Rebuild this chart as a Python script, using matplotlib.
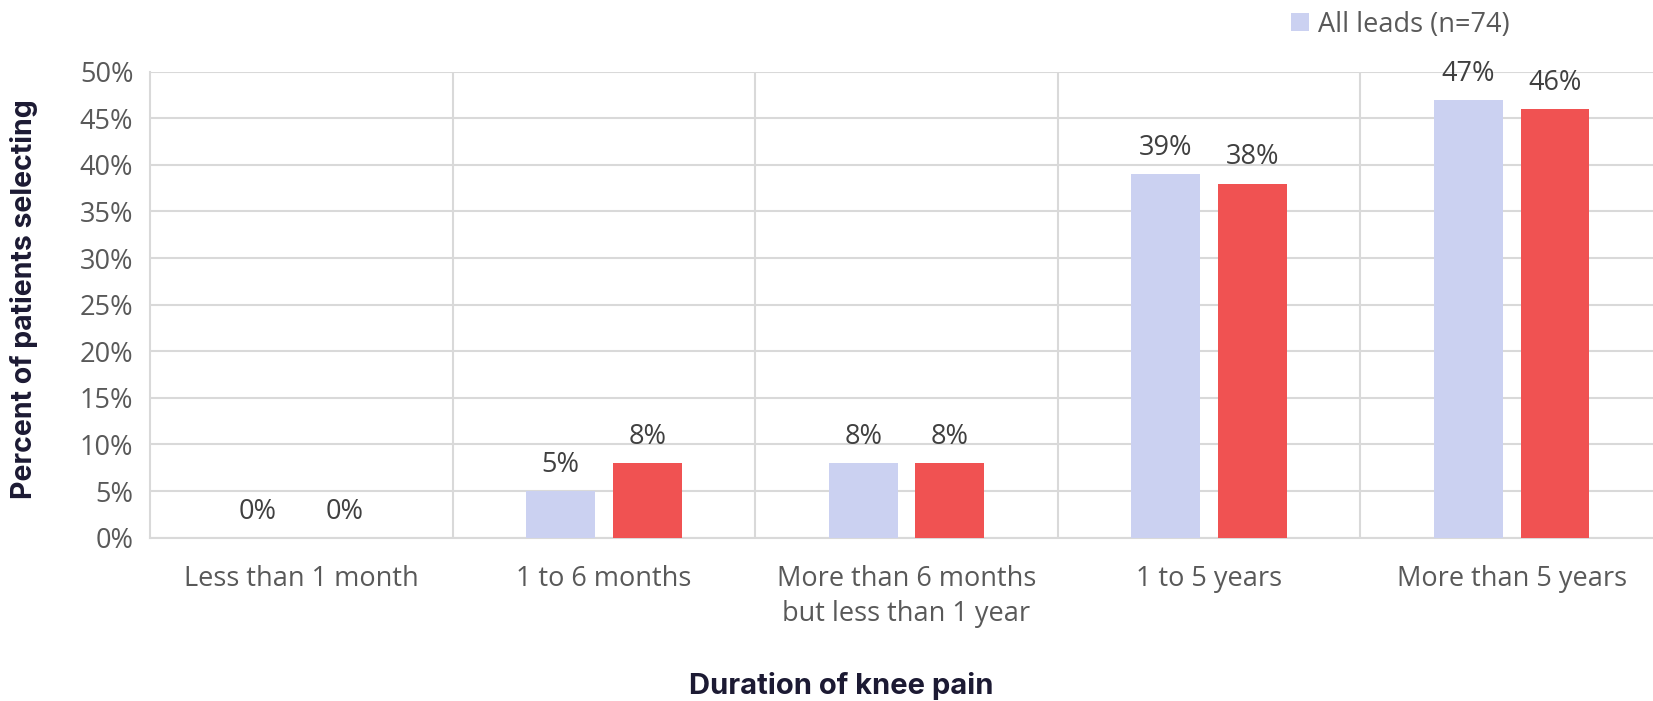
import matplotlib.pyplot as plt
import numpy as np

categories = ['Less than 1 month', '1 to 6 months',
              'More than 6 months\nbut less than 1 year', '1 to 5 years',
              'More than 5 years']
all_leads = [0, 5, 8, 39, 47]
second_series = [0, 8, 8, 38, 46]
legend_label = 'All leads (n=74)'

blue = '#CBD1F1'
red = '#F05252'
grid_c = '#D9D9D9'
text_c = '#595959'
title_c = '#1C1A33'

plt.rcParams['font.family'] = ['Open Sans', 'DejaVu Sans']
fs = 19.5

fig = plt.figure(figsize=(16.53, 7.01), dpi=100)
ax = fig.add_axes([150 / 1653, 0.233, 1513 / 1653, 0.6647])

x = np.arange(len(categories))
w = 0.227
off = 0.143
b1 = ax.bar(x - off, all_leads, w, color=blue, label=legend_label, zorder=3)
b2 = ax.bar(x + off, second_series, w, color=red, zorder=3)

for bars, vals in ((b1, all_leads), (b2, second_series)):
    for r, v in zip(bars, vals):
        ax.text(r.get_x() + r.get_width() / 2, v + 1.3, f'{v}%',
                ha='center', va='bottom', fontsize=fs, color='#404040')

ax.set_xlim(-0.5, len(categories) - 0.5)
ax.set_ylim(0, 50)
ax.set_yticks(np.arange(0, 51, 5))
ax.set_yticklabels([f'{t}%' for t in range(0, 51, 5)], fontsize=fs, color=text_c)
ax.set_xticks(x)
ax.set_xticklabels(categories, fontsize=fs, color=text_c, linespacing=1.3)
ax.set_xticks(np.arange(0.5, len(categories) - 0.5, 1), minor=True)
ax.tick_params(axis='both', length=0, which='both')
ax.tick_params(axis='x', pad=20)
ax.tick_params(axis='y', pad=12)
ax.yaxis.grid(True, color=grid_c, linewidth=1.5, zorder=0)
ax.xaxis.grid(True, which='minor', color=grid_c, linewidth=1.5, zorder=0)
for s in ['top', 'right']:
    ax.spines[s].set_visible(False)
for s in ['left', 'bottom']:
    ax.spines[s].set_color(grid_c)
    ax.spines[s].set_linewidth(1.5)

fig.text(24 / 1653, 0.574, 'Percent of patients selecting', rotation=90,
         ha='center', va='center', fontsize=20.5, fontweight='bold',
         color=title_c, family=['Inter', 'DejaVu Sans'])
fig.text(0.509, 0.021, 'Duration of knee pain', ha='center', va='center',
         fontsize=21, fontweight='bold', color=title_c, family=['Inter', 'DejaVu Sans'])

ax.legend(loc='upper left', bbox_to_anchor=(1275 / 1653, 1.008), bbox_transform=fig.transFigure,
          frameon=False, fontsize=fs, labelcolor=text_c, handlelength=0.65,
          handleheight=0.65, handletextpad=0.35, borderaxespad=0.2)

fig.savefig('out.png', dpi=100)
